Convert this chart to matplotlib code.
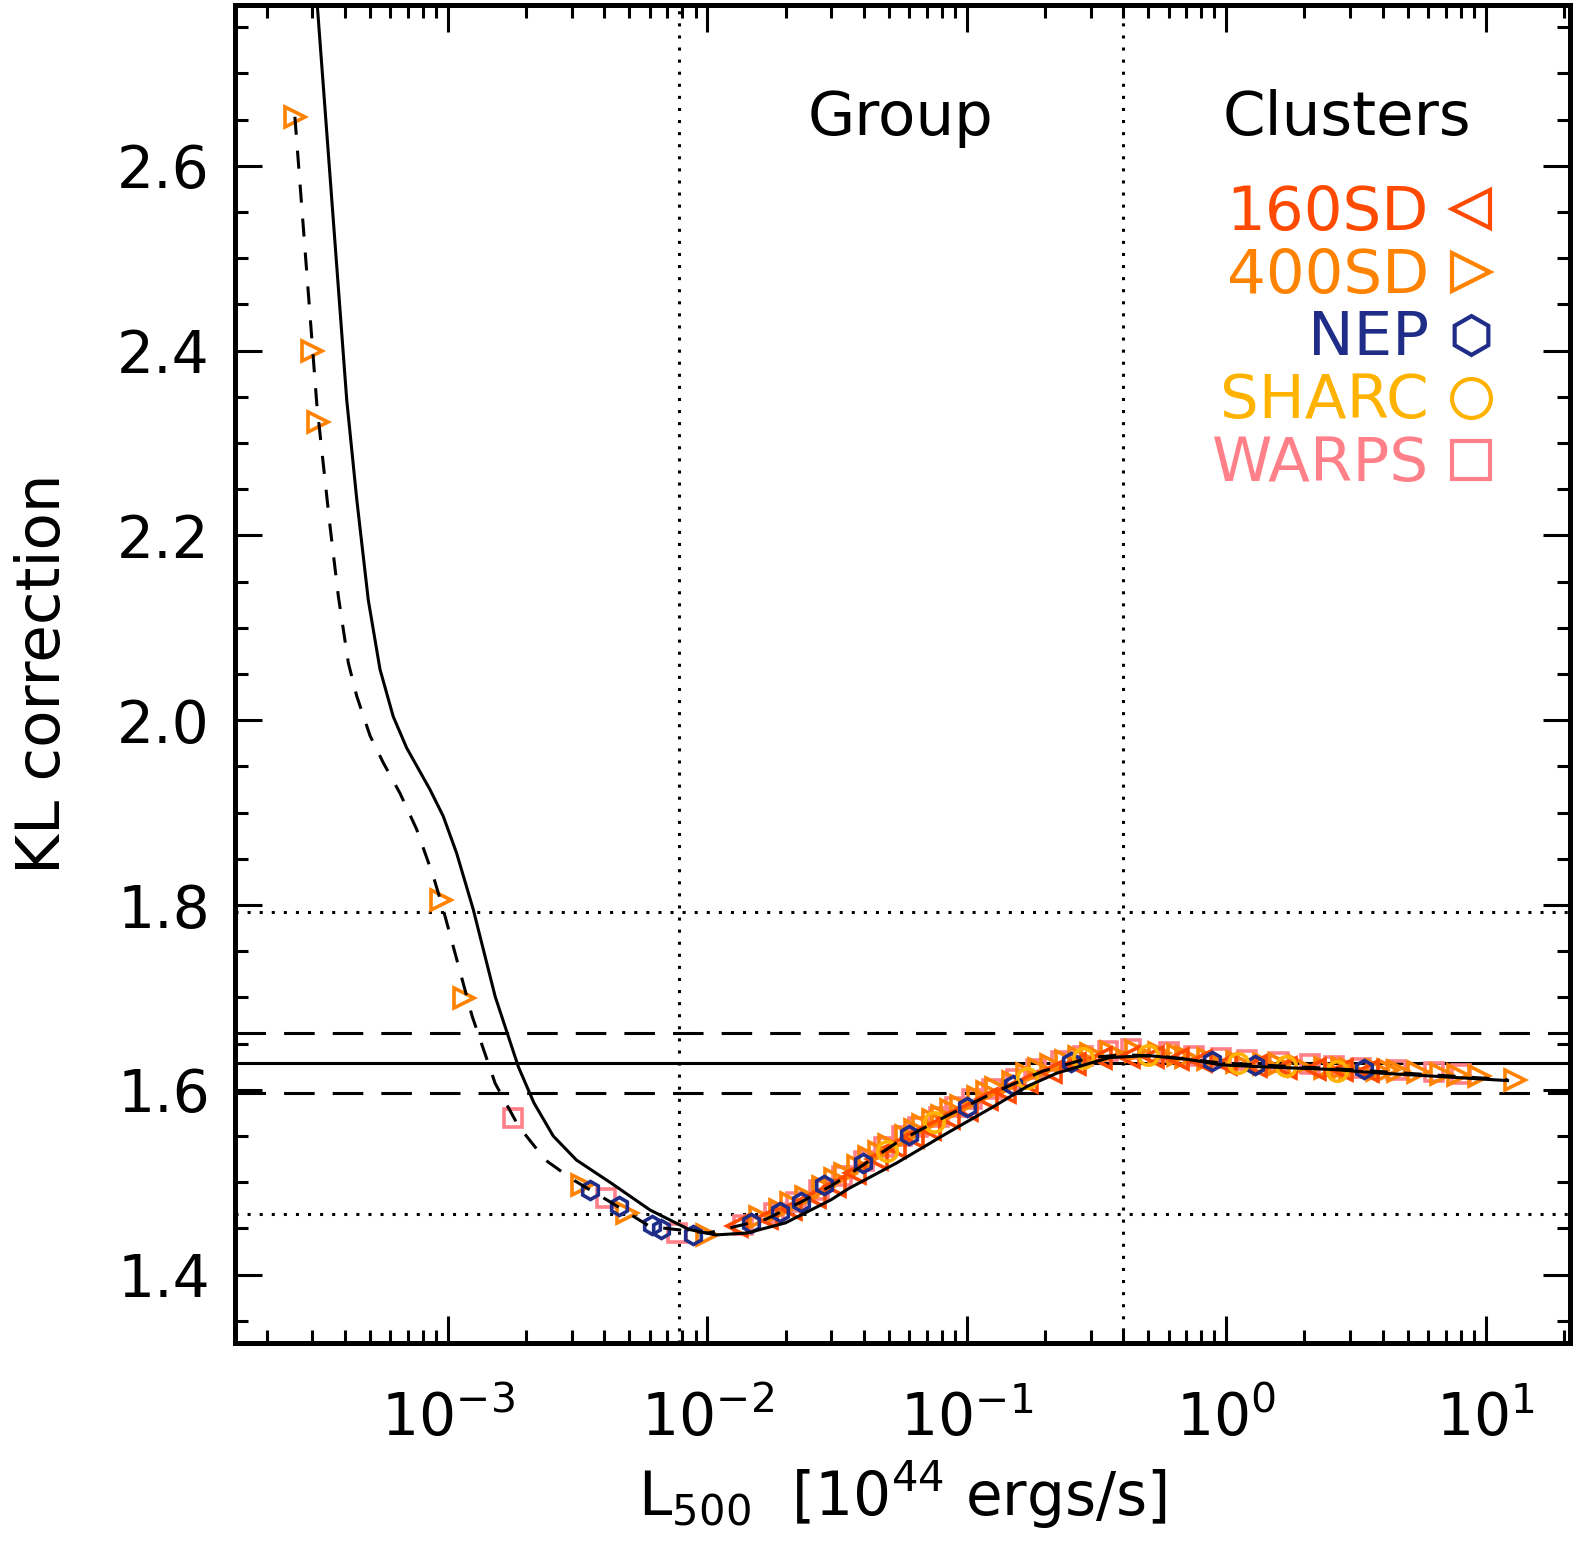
import numpy as np
import matplotlib
matplotlib.use("Agg")
import matplotlib.pyplot as plt
from matplotlib.ticker import MultipleLocator, LogLocator, NullFormatter, FormatStrFormatter

plt.rcParams['font.family'] = ['DejaVu Sans']
plt.rcParams['mathtext.fontset'] = 'dejavusans'
plt.rcParams['mathtext.default'] = 'regular'
plt.rcParams['lines.scale_dashes'] = False

# ---------------- data ----------------
solid_x = [3.08e-4, 3.15e-4, 4.07e-4, 4.45e-4, 4.93e-4, 5.47e-4, 6.15e-4, 6.93e-4, 8.52e-4,
           9.59e-4, 1.080e-3, 1.252e-3, 1.520e-3, 1.867e-3, 2.143e-3, 2.545e-3, 3.127e-3,
           4.258e-3, 6.005e-3, 8.463e-3, 1.076e-2, 1.417e-2, 1.998e-2, 2.995e-2, 3.494e-2,
           5.373e-2, 8.253e-2, 0.1269, 0.1715, 0.2220, 0.3000, 0.3562, 0.5027, 0.7096,
           0.9583, 1.352, 2.577, 3.964, 6.095, 12.13]
solid_y = [2.800, 2.766, 2.347, 2.239, 2.130, 2.055, 2.004, 1.970, 1.925,
           1.896, 1.856, 1.795, 1.701, 1.625, 1.586, 1.550, 1.524,
           1.499, 1.470, 1.449, 1.443, 1.445, 1.456, 1.481, 1.493,
           1.521, 1.552, 1.582, 1.604, 1.618, 1.629, 1.635, 1.637, 1.633,
           1.627, 1.625, 1.622, 1.618, 1.615, 1.610]

dash_x = [2.57e-4, 3.12e-4, 3.26e-4, 3.51e-4, 3.78e-4, 4.13e-4, 4.45e-4, 5.01e-4, 5.63e-4,
          6.53e-4, 7.57e-4, 8.78e-4, 9.59e-4, 1.238e-3, 1.520e-3, 1.867e-3, 2.375e-3,
          3.021e-3, 4.258e-3, 6.005e-3, 1.005e-2, 1.682e-2, 2.273e-2, 2.995e-2, 3.494e-2,
          5.373e-2, 8.253e-2, 0.1269, 0.1953, 0.3000, 0.4057, 0.5718, 0.958, 2.577, 12.13]
dash_y = [2.653, 2.343, 2.293, 2.210, 2.134, 2.062, 2.026, 1.983, 1.954,
          1.921, 1.882, 1.831, 1.795, 1.680, 1.607, 1.561, 1.524,
          1.503, 1.478, 1.452, 1.445, 1.460, 1.478, 1.496, 1.508,
          1.543, 1.571, 1.597, 1.620, 1.635, 1.638, 1.636, 1.629, 1.623, 1.611]

sd400_x = [2.57e-4, 2.99e-4, 3.155e-4, 9.4e-4, 1.156e-3, 3.29e-3, 4.89e-3, 1.0e-2,
           0.016, 0.019, 0.021, 0.024, 0.028, 0.031, 0.034, 0.038, 0.042, 0.046, 0.050,
           0.058, 0.063, 0.068, 0.074, 0.080, 0.087, 0.095, 0.11, 0.12, 0.13, 0.15, 0.17,
           0.19, 0.21, 0.24, 0.27, 0.30, 0.36, 0.45, 0.55, 0.65, 0.70, 0.85, 1.1, 1.4, 1.6,
           1.9, 2.4, 2.8, 3.0, 3.8, 4.2, 4.6, 5.5, 6.7, 7.8, 9.4, 12.9]
sd400_y = [2.653, 2.400, 2.323, 1.805, 1.699, 1.497, 1.467, 1.443,
           1.462, 1.470, 1.478, 1.484, 1.495, 1.503, 1.509, 1.518, 1.527, 1.533, 1.540,
           1.550, 1.557, 1.562, 1.567, 1.572, 1.578, 1.583, 1.592, 1.598, 1.602, 1.609, 1.617,
           1.622, 1.627, 1.631, 1.636, 1.639, 1.641, 1.642, 1.640, 1.638, 1.636, 1.633, 1.630,
           1.628, 1.628, 1.626, 1.624, 1.624, 1.623, 1.621, 1.621, 1.620, 1.619, 1.617, 1.616,
           1.615, 1.611]

sd160_x = [0.013, 0.017, 0.021, 0.026, 0.031, 0.037, 0.045, 0.053, 0.062, 0.072, 0.085,
           0.10, 0.12, 0.14, 0.17, 0.21, 0.26, 0.33, 0.42, 0.52, 0.65, 0.80, 1.0, 1.3,
           1.7, 2.2, 2.8, 3.5]
sd160_y = [1.453, 1.461, 1.471, 1.484, 1.496, 1.510, 1.525, 1.538, 1.549, 1.558, 1.569,
           1.578, 1.590, 1.598, 1.609, 1.619, 1.628, 1.634, 1.636, 1.636, 1.633, 1.631,
           1.628, 1.626, 1.624, 1.623, 1.621, 1.620]

nep_x = [3.53e-3, 4.56e-3, 6.11e-3, 6.65e-3, 8.76e-3, 1.466e-2, 0.019, 0.023, 0.0281,
         0.0397, 0.060, 0.100, 0.151, 0.253, 0.88, 1.29, 3.40]
nep_y = [1.492, 1.474, 1.454, 1.449, 1.443, 1.456, 1.468, 1.479, 1.497,
         1.521, 1.551, 1.581, 1.605, 1.630, 1.631, 1.627, 1.622]

sharc_x = [0.049, 0.075, 0.171, 0.28, 0.50, 1.11, 1.7, 2.67]
sharc_y = [1.534, 1.565, 1.613, 1.634, 1.638, 1.629, 1.626, 1.620]

warps_x = [1.775e-3, 4.05e-3, 7.63e-3, 1.369e-2, 0.018, 0.022, 0.027, 0.033, 0.040, 0.048,
           0.056, 0.065, 0.078, 0.090, 0.105, 0.125, 0.155, 0.185, 0.23, 0.28, 0.35, 0.43,
           0.60, 0.75, 0.95, 1.2, 1.6, 2.1, 2.6, 3.3, 4.5, 6.3, 8.0]
warps_y = [1.570, 1.483, 1.445, 1.454, 1.467, 1.479, 1.492, 1.507, 1.523, 1.538,
           1.550, 1.560, 1.571, 1.581, 1.590, 1.601, 1.612, 1.622, 1.631, 1.637, 1.642, 1.644,
           1.641, 1.637, 1.634, 1.632, 1.630, 1.628, 1.626, 1.624, 1.621, 1.619, 1.617]

mean_kl = 1.629
band_2pct = [1.6616, 1.5964]
band_10pct = [1.7919, 1.4661]
vlines_x = [0.0078, 0.40]

surveys = ['160SD', '400SD', 'NEP', 'SHARC', 'WARPS']
colors = {'160SD': '#FF4A00', '400SD': '#FF8200', 'NEP': '#1F2D88',
          'SHARC': '#FFB300', 'WARPS': '#FF8088'}
markers = {'160SD': '<', '400SD': '>', 'NEP': 'h', 'SHARC': 'o', 'WARPS': 's'}
sizes = {'160SD': 14, '400SD': 14, 'NEP': 13, 'SHARC': 14, 'WARPS': 12.5}
data = {'160SD': (sd160_x, sd160_y), '400SD': (sd400_x, sd400_y),
        'NEP': (nep_x, nep_y), 'SHARC': (sharc_x, sharc_y), 'WARPS': (warps_x, warps_y)}

# ---------------- figure ----------------
fig = plt.figure(figsize=(15.78, 15.43), dpi=100)
ax = fig.add_axes([0.1489, 0.1296, 0.8460, 0.8672])
ax.set_xscale('log')
ax.set_xlim(1.51e-4, 21.1)
ax.set_ylim(1.326, 2.774)

lw = 2.2
# reference lines
ax.axhline(mean_kl, color='k', lw=lw, zorder=1)
for v in band_2pct:
    ax.axhline(v, color='k', lw=lw, dashes=(22, 13), zorder=1)
for v in band_10pct:
    ax.axhline(v, color='k', lw=lw, dashes=(2.2, 6.5), zorder=1)
for v in vlines_x:
    ax.axvline(v, color='k', lw=lw, dashes=(2.2, 6.5), zorder=1)

# data points
for s in ['WARPS', '400SD', '160SD', 'NEP', 'SHARC']:
    xs, ys = data[s]
    ax.plot(xs, ys, linestyle='none', marker=markers[s], ms=sizes[s],
            mfc='none', mec=colors[s], mew=2.6, zorder=3)

# curves
ax.plot(solid_x, solid_y, color='k', lw=lw, zorder=4)
ax.plot(dash_x, dash_y, color='k', lw=lw, dashes=(13, 11.5), zorder=4)

# texts
ax.text(0.4987, 0.9150, 'Group', transform=ax.transAxes, ha='center', va='center',
        fontsize=44)
ax.text(0.8327, 0.9150, 'Clusters', transform=ax.transAxes, ha='center', va='center',
        fontsize=44)
leg_y = [0.8445, 0.7974, 0.7504, 0.7033, 0.6569]
for s, yy in zip(surveys, leg_y):
    ax.text(0.8944, yy, s, transform=ax.transAxes, ha='right', va='center',
            fontsize=44, color=colors[s])
    ax.plot([0.9258], [yy + 0.003], transform=ax.transAxes, marker=markers[s], ms=28,
            mfc='none', mec=colors[s], mew=3, linestyle='none', clip_on=False)

# axes styling
for sp in ax.spines.values():
    sp.set_linewidth(3.6)
ax.yaxis.set_major_locator(MultipleLocator(0.2))
ax.yaxis.set_minor_locator(MultipleLocator(0.05))
ax.xaxis.set_major_locator(LogLocator(base=10, numticks=20))
ax.xaxis.set_minor_locator(LogLocator(base=10, subs=np.arange(2, 10), numticks=20))
ax.xaxis.set_minor_formatter(NullFormatter())
ax.yaxis.set_major_formatter(FormatStrFormatter('%.1f'))
ax.tick_params(which='both', direction='in', top=True, right=True)
ax.tick_params(which='major', length=19.5, width=2.2, labelsize=42, pad=18)
ax.tick_params(which='minor', length=9.7, width=2.2)
ax.tick_params(axis='x', which='major', pad=34)

ax.set_xlabel(r'L$_{500}$  [10$^{44}$ ergs/s]', fontsize=43, labelpad=8)
ax.set_ylabel('KL correction', fontsize=44, labelpad=32)

fig.savefig('out.png', dpi=100)
